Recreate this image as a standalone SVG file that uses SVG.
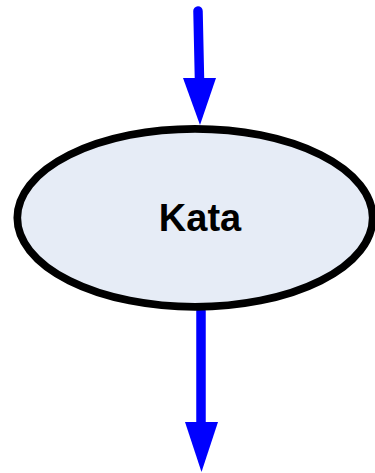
<svg xmlns="http://www.w3.org/2000/svg" width="375" height="473" viewBox="0 0 375 473">
<style>
.conn{stroke:#0000ff;stroke-width:9.5;stroke-linecap:round;fill:none}
.head{fill:#0000ff}
.node{fill:#e6ecf6;stroke:#000;stroke-width:7.7}
.lbl{font-family:"Liberation Sans",Arial,sans-serif;font-weight:bold;font-size:38px;fill:#000;text-anchor:middle}
</style>
<rect width="375" height="473" fill="#fff"/>
<g id="connectors">
<line class="conn" x1="198" y1="11" x2="199.5" y2="80"/>
<polygon class="head" points="183,78 216,78 200,125"/>
<line class="conn" x1="201" y1="311" x2="201" y2="424"/>
<polygon class="head" points="185,422 218,422 201.5,472"/>
</g>
<g id="node-kata">
<ellipse class="node" cx="195" cy="217.8" rx="177.7" ry="89"/>
<text class="lbl" x="200" y="230.7">Kata</text>
</g>
</svg>
